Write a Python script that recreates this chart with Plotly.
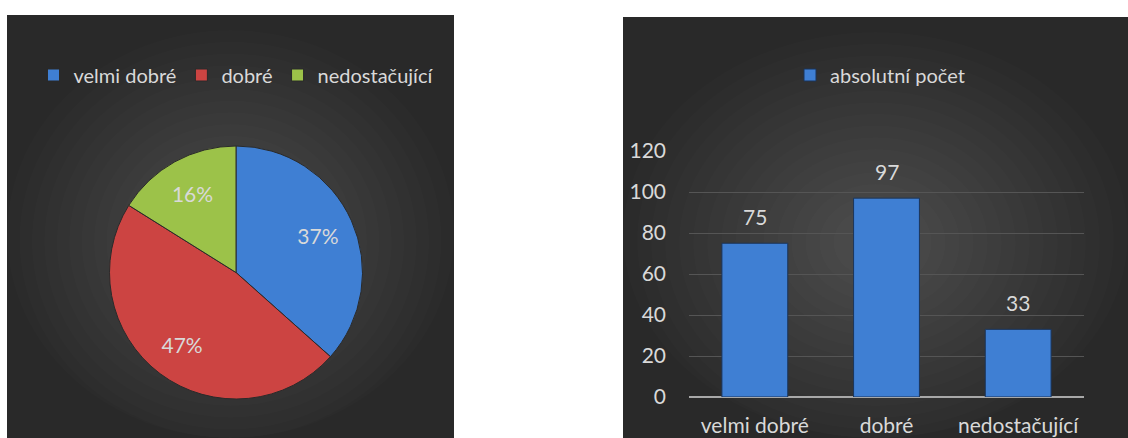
import plotly.graph_objects as go

categories = ["velmi dobré", "dobré", "nedostačující"]
counts = [75, 97, 33]
series_name = "absolutní počet"
y_ticks = [0, 20, 40, 60, 80, 100, 120]

W, H = 1128, 438
BLUE = "#3f7fd3"
RED = "#cc4442"
GREEN = "#9cc249"
TXT = "#d9d9d9"
FONT = "Lato"
FS = 21
LFS = 20

fig = go.Figure()

pie_domain = dict(x=[109 / W, 363 / W], y=[(H - 399) / H, (H - 146) / H])

# full pie (colours, legend)
fig.add_trace(go.Pie(
    labels=categories, values=counts, sort=False, direction="clockwise",
    rotation=0, textinfo="none",
    marker=dict(colors=[BLUE, RED, GREEN], line=dict(color="#2a2a2a", width=1)),
    domain=pie_domain, legend="legend", hoverinfo="label+value+percent", showlegend=True,
))
# percentage labels placed in the outer ring
fig.add_trace(go.Pie(
    labels=categories, values=counts, sort=False, direction="clockwise",
    rotation=0, hole=0.42, texttemplate="%{percent:.0%}", textposition="inside",
    insidetextorientation="horizontal",
    insidetextfont=dict(color=TXT, size=FS, family=FONT),
    marker=dict(colors=["rgba(0,0,0,0)"] * 3, line=dict(width=0)),
    domain=pie_domain, showlegend=False, hoverinfo="skip",
))

fig.add_trace(go.Bar(
    x=categories, y=counts, name=series_name,
    marker=dict(color=BLUE, line=dict(color="#1b355a", width=1)),
    legend="legend2", showlegend=True,
))

annotations = [dict(x=c, y=v, xref="x", yref="y", text=str(v), showarrow=False,
                    yanchor="bottom", yshift=12, font=dict(color=TXT, size=FS, family=FONT))
               for c, v in zip(categories, counts)]


def panel(x0, y0, x1, y1):
    shapes = [dict(type="rect", xref="paper", yref="paper", layer="below",
                   x0=x0 / W, x1=x1 / W, y0=1 - y1 / H, y1=1 - y0 / H,
                   fillcolor="#292929", line=dict(width=0))]
    n = 16
    cx, cy = (x0 + x1) / 2, (y0 + y1) / 2 + 15
    rx, ry = (x1 - x0) / 2, (y1 - y0) / 2
    for i in range(n):
        f = 1 - i / (n + 2)
        shapes.append(dict(type="circle", xref="paper", yref="paper", layer="below",
                           x0=(cx - rx * f) / W, x1=(cx + rx * f) / W,
                           y0=1 - min(y1, cy + ry * f) / H, y1=1 - max(y0, cy - ry * f) / H,
                           fillcolor="rgba(255,255,255,0.0115)", line=dict(width=0)))
    return shapes


shapes = panel(7, 15, 454, 438) + panel(623, 17, 1128, 438)

fig.update_layout(
    width=W, height=H, margin=dict(l=0, r=0, t=0, b=0, autoexpand=False),
    paper_bgcolor="white", plot_bgcolor="rgba(0,0,0,0)",
    font=dict(family=FONT, color=TXT, size=FS),
    shapes=shapes, annotations=annotations,
    bargap=0.5,
    legend=dict(orientation="h", x=236 / W, xanchor="center", y=1 - 75 / H, yanchor="middle",
                bgcolor="rgba(0,0,0,0)", font=dict(size=LFS, color=TXT, family=FONT),
                itemwidth=30, traceorder="normal"),
    legend2=dict(orientation="h", x=880 / W, xanchor="center", y=1 - 75 / H, yanchor="middle",
                 bgcolor="rgba(0,0,0,0)", font=dict(size=LFS, color=TXT, family=FONT),
                 itemwidth=30),
    xaxis=dict(domain=[689 / W, 1084 / W], showgrid=False, showline=False, ticks="",
               automargin=False, tickfont=dict(size=FS, color=TXT, family=FONT),
               ticklabelstandoff=14),
    yaxis=dict(domain=[(H - 397) / H, (H - 151) / H], range=[0, 120], tickvals=y_ticks,
               showgrid=True, gridcolor="#555555", gridwidth=1,
               zeroline=True, zerolinecolor="#a8a8a8", zerolinewidth=2,
               showline=False, ticks="", automargin=False,
               tickfont=dict(size=FS, color=TXT, family=FONT), ticklabelstandoff=22),
)

fig.write_html("out.html", config={"displayModeBar": False},
               post_script="document.body.style.margin='0px';")
